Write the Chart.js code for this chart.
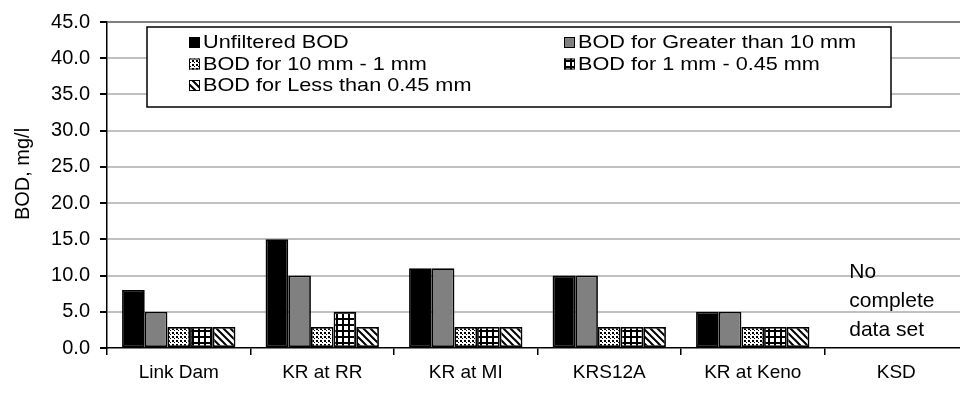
<!DOCTYPE html>
<html>
<head>
<meta charset="utf-8">
<script src="https://cdn.jsdelivr.net/npm/chart.js@4/dist/chart.umd.min.js"></script>
<style>
  html, body { margin: 0; padding: 0; background: #fff; overflow: hidden; }
  #wrap { width: 960px; height: 394px; overflow: hidden; position: relative; }
  canvas { display: block; }
</style>
</head>
<body>
<div id="wrap"><canvas id="c" width="980" height="394"></canvas></div>
<script>
// Sampling sites along the river
const sites = ['Link Dam', 'KR at RR', 'KR at MI', 'KRS12A', 'KR at Keno', 'KSD'];

// BOD (mg/l) per size fraction; KSD has no complete data set
const unfilteredBOD = [8, 15, 11, 10, 5, null];
const bodGreater10mm = [5, 10, 11, 10, 5, null];
const bod10to1mm = [2.9, 2.9, 2.9, 2.9, 2.9, null];
const bod1to045mm = [2.9, 5, 2.9, 2.9, 2.9, null];
const bodLess045mm = [2.9, 2.9, 2.9, 2.9, 2.9, null];

const seriesNames = [
  'Unfiltered BOD',
  'BOD for Greater than 10 mm',
  'BOD for 10 mm - 1 mm',
  'BOD for 1 mm - 0.45 mm',
  'BOD for Less than 0.45 mm'
];

const yMin = 0, yMax = 45, yStep = 5;
const yTitle = 'BOD, mg/l';
const noDataNote = ['No', 'complete', 'data set'];

const FONT = 'Liberation Sans, Arial, sans-serif';
Chart.defaults.font.family = FONT;
Chart.defaults.color = '#000';

// Fill patterns for the size-fraction bars
function makePattern(kind) {
  const t = document.createElement('canvas');
  const g = t.getContext('2d');
  if (kind === 'dots') {
    t.width = 4; t.height = 4;
    g.fillStyle = '#fff'; g.fillRect(0, 0, 4, 4);
    g.fillStyle = '#000';
    g.fillRect(0, 0, 2, 2);
    g.fillRect(2, 2, 1, 1);
  } else if (kind === 'grid') {
    t.width = 6; t.height = 6;
    g.fillStyle = '#fff'; g.fillRect(0, 0, 6, 6);
    g.fillStyle = '#000';
    g.fillRect(0, 0, 2, 6);
    g.fillRect(0, 0, 6, 2);
  } else {
    t.width = 7; t.height = 7;
    g.fillStyle = '#fff'; g.fillRect(0, 0, 7, 7);
    g.strokeStyle = '#000'; g.lineWidth = 2;
    g.beginPath();
    g.moveTo(-1, -1); g.lineTo(8, 8);
    g.moveTo(-1, 6); g.lineTo(1, 8);
    g.moveTo(6, -1); g.lineTo(8, 1);
    g.stroke();
  }
  return g.createPattern(t, 'repeat');
}

const fills = ['#000000', '#808080', makePattern('dots'), makePattern('grid'), makePattern('diag')];
const seriesValues = [unfilteredBOD, bodGreater10mm, bod10to1mm, bod1to045mm, bodLess045mm];

const datasets = seriesNames.map((name, i) => ({
  label: name,
  data: seriesValues[i],
  backgroundColor: fills[i],
  borderColor: '#000',
  borderWidth: 1.75,
  borderSkipped: false,
  categoryPercentage: 0.79,
  barPercentage: 1.0
}));

// Boxed two-column legend inside the plot, y-axis title and the KSD note
const decorations = {
  id: 'decorations',
  afterDraw(chart) {
    const ctx = chart.ctx;
    const xs = chart.scales.x;
    ctx.save();

    // legend box
    const bx = 147, by = 27, bw = 744, bh = 80;
    ctx.fillStyle = '#fff';
    ctx.fillRect(bx, by, bw, bh);
    ctx.strokeStyle = '#000';
    ctx.lineWidth = 1.5;
    ctx.strokeRect(bx, by, bw, bh);

    const items = chart.data.datasets.map(d => ({ label: d.label, fill: d.backgroundColor }));
    const cols = [189, 564];
    const rows = [42, 63.5, 85];
    items.forEach((it, i) => {
      const cx = cols[i % 2];
      const cy = rows[Math.floor(i / 2)];
      ctx.fillStyle = it.fill;
      ctx.fillRect(cx, cy - 5, 11, 11);
      ctx.lineWidth = 1;
      ctx.strokeStyle = '#000';
      ctx.strokeRect(cx + 0.5, cy - 4.5, 10, 10);
      // legend text, slightly widened
      ctx.save();
      ctx.translate(cx + 14, cy + 1);
      ctx.scale(1.14, 1);
      ctx.font = '19px ' + FONT;
      ctx.textBaseline = 'middle';
      ctx.textAlign = 'left';
      ctx.fillStyle = '#000';
      ctx.fillText(it.label, 0, 0);
      ctx.restore();
    });

    // y-axis title
    ctx.save();
    ctx.translate(23, 174);
    ctx.rotate(-Math.PI / 2);
    ctx.textAlign = 'center';
    ctx.textBaseline = 'middle';
    ctx.font = '20px ' + FONT;
    ctx.fillStyle = '#000';
    ctx.fillText(yTitle, 0, 0);
    ctx.restore();

    // note for the site without a complete data set
    const ksd = xs.getPixelForValue(5);
    const bottom = chart.chartArea.bottom;
    ctx.font = '21px ' + FONT;
    ctx.textAlign = 'left';
    ctx.textBaseline = 'middle';
    ctx.fillStyle = '#000';
    noDataNote.forEach((line, i) => {
      ctx.fillText(line, ksd - 47, bottom - 76 + i * 29);
    });

    ctx.restore();
  }
};

new Chart(document.getElementById('c'), {
  type: 'bar',
  data: { labels: sites, datasets },
  options: {
    responsive: false,
    animation: false,
    layout: { padding: { left: 0, right: 12, top: 15, bottom: 0 } },
    plugins: { legend: { display: false }, tooltip: { enabled: false } },
    scales: {
      x: {
        grid: { display: true, drawOnChartArea: false, offset: true, tickLength: 7, color: '#000', tickColor: '#000', lineWidth: 1.5 },
        border: { display: true, color: '#000', width: 1.5 },
        ticks: { font: { size: 19 }, color: '#000', padding: 6, maxRotation: 0, autoSkip: false },
        afterFit(s) { s.height = 46; }
      },
      y: {
        min: yMin, max: yMax,
        grid: {
          color: c => c.tick.value === yMax ? '#808080' : (c.tick.value === yMin ? 'rgba(0,0,0,0)' : '#c0c0c0'),
          lineWidth: 2,
          tickLength: 7,
          tickColor: '#000'
        },
        border: { display: true, color: '#000', width: 1.5 },
        ticks: { stepSize: yStep, callback: v => v.toFixed(1), font: { size: 20 }, color: '#000', padding: 10 },
        afterFit(s) { s.width = 107; }
      }
    }
  },
  plugins: [decorations]
});
</script>
</body>
</html>
